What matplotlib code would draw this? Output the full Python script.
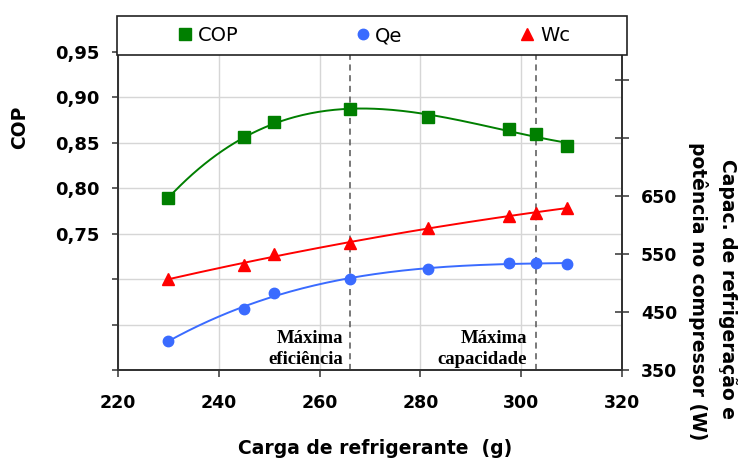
import numpy as np
import matplotlib
matplotlib.use('Agg')
import matplotlib.pyplot as plt
from matplotlib.lines import Line2D
from matplotlib.patches import Rectangle

# refrigerant charge (g) and measured values
carga = [230, 245, 251, 266, 281.5, 297.5, 303, 309]
cop = [0.789, 0.856, 0.873, 0.887, 0.878, 0.865, 0.860, 0.847]
qe = [400, 455, 483, 507, 524, 534, 535, 533]
wc = [507, 531, 550, 569, 595, 615, 621, 630]

x_ticks = [220, 240, 260, 280, 300, 320]
cop_ticks = [0.60, 0.65, 0.70, 0.75, 0.80, 0.85, 0.90, 0.95]
cop_labels = ['', '', '', '0,75', '0,80', '0,85', '0,90', '0,95']
pot_ticks = [350, 450, 550, 650, 750, 850]
pot_labels = ['350', '450', '550', '650', '', '']

max_efic = 266
max_cap = 303

green = '#007F00'
blue = '#3A6BFF'
red = '#FF0000'
W, H = 743, 459

plt.rcParams['font.family'] = 'DejaVu Sans'
plt.rcParams['font.weight'] = 'bold'

fig = plt.figure(figsize=(W / 100, H / 100), dpi=100)
ax = fig.add_axes([118 / W, 1 - 370 / H, (622 - 118) / W, (370 - 52) / H])
ax2 = ax.twinx()


def trend(x, y, deg):
    # polynomial trend line over the measured range
    p = np.polyfit(x, y, deg)
    xs = np.linspace(min(x), max(x), 200)
    return xs, np.polyval(p, xs)


xs, ys = trend(carga, cop, 3)
ax.plot(xs, ys, color=green, lw=1.4)
ax.plot(carga, cop, ls='none', marker='s', ms=8.5, color=green)

xs, ys = trend(carga, qe, 3)
ax2.plot(xs, ys, color=blue, lw=1.4)
ax2.plot(carga, qe, ls='none', marker='o', ms=7.5, color=blue)

xs, ys = trend(carga, wc, 2)
ax2.plot(xs, ys, color=red, lw=1.4)
ax2.plot(carga, wc, ls='none', marker='^', ms=9, color=red)

for xv in (max_efic, max_cap):
    ax.axvline(xv, color='#555555', ls=(0, (4, 3)), lw=1.1, zorder=1)

ax.set_xlim(220, 320)
ax.set_ylim(0.60, 0.95)
ax2.set_ylim(350, 350 + 318 / 0.58)

ax.set_xticks(x_ticks)
ax.set_yticks(cop_ticks)
ax.set_yticklabels(cop_labels)
ax2.set_yticks(pot_ticks)
ax2.set_yticklabels(pot_labels)

ax.grid(color='#d6d6d6', lw=1)
ax.set_axisbelow(True)

ax.tick_params(axis='x', direction='out', length=5, width=1.1, pad=12,
               labelsize=12.5, color='#333333')
ax.tick_params(axis='y', direction='out', length=4.5, width=1.1, pad=9,
               labelsize=13, color='#333333')
ax2.tick_params(axis='y', direction='inout', length=9.5, width=1.1, pad=9,
                labelsize=12.5, color='#333333')

for a in (ax, ax2):
    a.spines['top'].set_visible(False)
    for s in ('left', 'right', 'bottom'):
        a.spines[s].set_color('#333333')
        a.spines[s].set_linewidth(1.3)

note = dict(transform=ax.get_xaxis_transform(), ha='right', va='center',
            multialignment='right', family='Liberation Serif', weight='bold',
            fontsize=13.5, linespacing=1.25)
ax.text(max_efic - 1.3, 0.066, 'Máxima\neficiência', **note)
ax.text(max_cap - 1.8, 0.066, 'Máxima\ncapacidade', **note)

fig.text(20 / W, 1 - 127 / H, 'COP', rotation=90, ha='center', va='center', fontsize=13.5)
fig.text(375 / W, 1 - 449 / H, 'Carga de refrigerante  (g)', ha='center', va='center',
         fontsize=13.5)
fig.text(728 / W, 1 - 289 / H, 'Capac. de refrigeração e', rotation=-90,
         ha='center', va='center', fontsize=13.5)
fig.text(698 / W, 1 - 291 / H, 'potência no compressor (W)', rotation=-90,
         ha='center', va='center', fontsize=13.5)

# legend strip across the top of the plot
fig.add_artist(Rectangle((117 / W, 1 - 55 / H), (627 - 117) / W, 39 / H,
                         transform=fig.transFigure, fc='white', ec='#222222',
                         lw=1.2, zorder=4))
handles = [Line2D([], [], ls='none', marker='s', ms=8.5, color=green),
           Line2D([], [], ls='none', marker='o', ms=7.5, color=blue),
           Line2D([], [], ls='none', marker='^', ms=9, color=red)]
fig.legend(handles, ['COP', 'Qe', 'Wc'], ncol=3, mode='expand', loc='center',
           bbox_to_anchor=(179 / W, 1 - 55 / H, (570 - 179) / W, 39 / H),
           frameon=False, borderpad=0, borderaxespad=0, handlelength=0.6,
           handletextpad=0.35, prop={'weight': 'normal', 'size': 14})

fig.savefig('out.png', dpi=100)
